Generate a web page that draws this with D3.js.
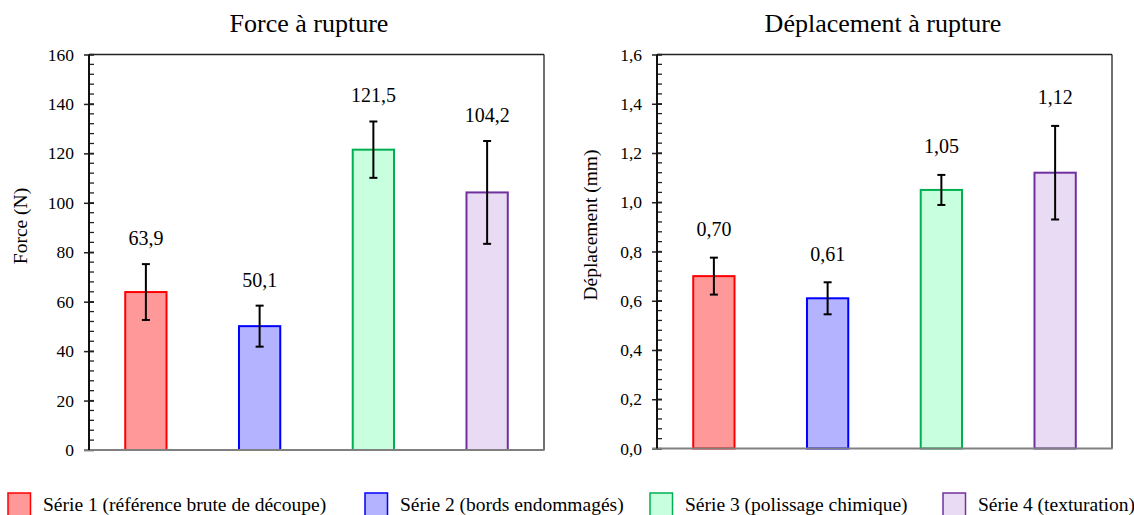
<!DOCTYPE html>
<html>
<head>
<meta charset="utf-8">
<script src="https://cdn.jsdelivr.net/npm/d3@7"></script>
<style>
  html, body { margin: 0; padding: 0; background: #fff; }
  svg { display: block; }
  svg text { font-family: "Liberation Serif", "Times New Roman", serif !important; }
</style>
</head>
<body>
<svg id="chart" width="1134" height="515"></svg>
<script>
// ---- Data ----
const categories = ["Série 1 (référence brute de découpe)", "Série 2 (bords endommagés)", "Série 3 (polissage chimique)", "Série 4 (texturation)"];
const forceValues = [63.9, 50.1, 121.5, 104.2];
const forceErrors = [11.3, 8.3, 11.4, 20.8];
const dispValues = [0.70, 0.61, 1.05, 1.12];
const dispErrors = [0.075, 0.065, 0.061, 0.19];
const forceTicks = [0, 20, 40, 60, 80, 100, 120, 140, 160];
const dispTicks = [0, 0.2, 0.4, 0.6, 0.8, 1.0, 1.2, 1.4, 1.6];
const fillColors = ["#FF9999", "#B3B3FF", "#C8FFDF", "#E9DBF3"];
const strokeColors = ["#FF0000", "#0000FF", "#00B050", "#7030A0"];

const svg = d3.select("#chart");

function drawPanel(opts) {
  const { x0, x1, yTop, yBot, values, errors, ticks, maxV, minorStep, tickFmt, valFmt, title, titleX, yLabel, yLabelX, yLabelY, labelOffset } = opts;
  const g = svg.append("g");
  const x = d3.scaleBand().domain(categories).range([x0, x1]).paddingInner(0.637).paddingOuter(0.3185);
  const y = d3.scaleLinear().domain([0, maxV]).range([yBot, yTop]);

  // title
  g.append("text").attr("x", titleX).attr("y", 32).attr("text-anchor", "middle")
    .attr("font-size", 26).attr("fill", "#000").text(title);

  // y axis label
  g.append("text").attr("transform", `translate(${yLabelX},${yLabelY}) rotate(-90)`)
    .attr("text-anchor", "middle").attr("font-size", 19.5).attr("fill", "#000").text(yLabel);

  // minor ticks
  const minor = d3.range(0, maxV + minorStep / 2, minorStep);
  g.append("g").selectAll("line").data(minor).join("line")
    .attr("x1", x0).attr("x2", x0 + 5)
    .attr("y1", d => y(d)).attr("y2", d => y(d))
    .attr("stroke", "#222").attr("stroke-width", 1.3);

  // major ticks + labels via d3 axis
  const axis = d3.axisLeft(y).tickValues(ticks).tickFormat(tickFmt).tickSize(5).tickPadding(10);
  const ax = g.append("g").attr("transform", `translate(${x0},0)`).call(axis);
  ax.attr("font-family", null).attr("font-size", null);
  ax.select(".domain").remove();
  ax.selectAll(".tick line").attr("x2", -5).attr("x1", 5).attr("stroke", "#222").attr("stroke-width", 1.5);
  ax.selectAll(".tick text").attr("font-size", 17.5).attr("fill", "#000");

  // bars
  g.append("g").selectAll("rect").data(values).join("rect")
    .attr("x", (d, i) => x(categories[i]))
    .attr("width", x.bandwidth())
    .attr("y", d => y(d))
    .attr("height", d => yBot - y(d))
    .attr("fill", (d, i) => fillColors[i])
    .attr("stroke", (d, i) => strokeColors[i])
    .attr("stroke-width", 2);

  // error bars
  const eg = g.append("g").attr("stroke", "#000").attr("stroke-width", 2);
  values.forEach((v, i) => {
    const cx = x(categories[i]) + x.bandwidth() / 2;
    const hi = y(v + errors[i]), lo = y(v - errors[i]);
    eg.append("line").attr("x1", cx).attr("x2", cx).attr("y1", hi).attr("y2", lo);
    eg.append("line").attr("x1", cx - 4).attr("x2", cx + 4).attr("y1", hi).attr("y2", hi);
    eg.append("line").attr("x1", cx - 4).attr("x2", cx + 4).attr("y1", lo).attr("y2", lo);
    g.append("text").attr("x", cx).attr("y", hi - labelOffset).attr("text-anchor", "middle")
      .attr("font-size", 20).attr("fill", "#000").text(valFmt(v));
  });

  // frame
  g.append("line").attr("x1", x0).attr("x2", x1).attr("y1", yTop).attr("y2", yTop).attr("stroke", "#222").attr("stroke-width", 1.5);
  g.append("line").attr("x1", x1).attr("x2", x1).attr("y1", yTop).attr("y2", yBot).attr("stroke", "#222").attr("stroke-width", 1.3);
  g.append("line").attr("x1", x0 - 5).attr("x2", x1 + 0.6).attr("y1", yBot).attr("y2", yBot).attr("stroke", "#808080").attr("stroke-width", 2);
  g.append("line").attr("x1", x0).attr("x2", x0).attr("y1", yTop).attr("y2", yBot).attr("stroke", "#111").attr("stroke-width", 2);
}

const comma = f => (d => d3.format(f)(d).replace(".", ","));

drawPanel({
  x0: 89, x1: 544, yTop: 54.5, yBot: 450, values: forceValues, errors: forceErrors,
  ticks: forceTicks, maxV: 160, minorStep: 4, tickFmt: d3.format("d"), valFmt: comma(".1f"),
  title: "Force à rupture", titleX: 309, yLabel: "Force (N)", yLabelX: 27, yLabelY: 226, labelOffset: 19
});
drawPanel({
  x0: 657, x1: 1112, yTop: 54.5, yBot: 448.5, values: dispValues, errors: dispErrors,
  ticks: dispTicks, maxV: 1.6, minorStep: 0.04, tickFmt: comma(".1f"), valFmt: comma(".2f"),
  title: "Déplacement à rupture", titleX: 883, yLabel: "Déplacement (mm)", yLabelX: 597, yLabelY: 225, labelOffset: 21.5
});

// legend
const legendX = [8, 365, 650, 943];
const lg = svg.append("g");
categories.forEach((c, i) => {
  lg.append("rect").attr("x", legendX[i]).attr("y", 493).attr("width", 22.5).attr("height", 23)
    .attr("fill", fillColors[i]).attr("stroke", strokeColors[i]).attr("stroke-width", 1.5);
  lg.append("text").attr("x", legendX[i] + 35).attr("y", 511).attr("font-size", 19.5).attr("fill", "#000").text(c);
});
</script>
</body>
</html>
